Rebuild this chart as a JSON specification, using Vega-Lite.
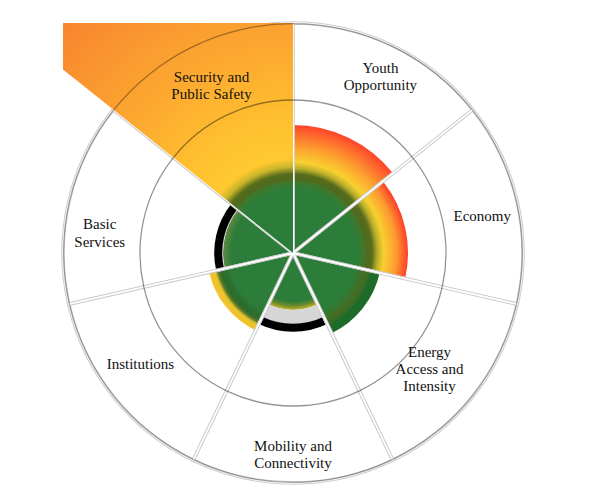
{
  "$schema": "https://vega.github.io/schema/vega-lite/v6.json",
  "width": 460,
  "height": 460,
  "autosize": {"type": "none"},
  "padding": {"left": 63, "top": 23, "right": 77, "bottom": 11},
  "background": "white",
  "config": {"view": {"stroke": null}},
  "data": {
    "values": [
      {"idx": 0, "sector": "Youth Opportunity", "label": "Youth\nOpportunity", "share": 1, "value": 1.6},
      {"idx": 1, "sector": "Economy", "label": "Economy", "share": 1, "value": 1.4375},
      {"idx": 2, "sector": "Energy Access and Intensity", "label": "Energy\nAccess and\nIntensity", "share": 1, "value": 1.1125},
      {"idx": 3, "sector": "Mobility and Connectivity", "label": "Mobility and\nConnectivity", "share": 1, "value": 0.7125},
      {"idx": 4, "sector": "Institutions", "label": "Institutions", "share": 1, "value": 1.075},
      {"idx": 5, "sector": "Basic Services", "label": "Basic\nServices", "share": 1, "value": 0.875},
      {"idx": 6, "sector": "Security and Public Safety", "label": "Security and\nPublic Safety", "share": 1, "value": 5.0}
    ]
  },
  "transform": [
    {"stack": "share", "groupby": [], "sort": [{"field": "idx", "order": "ascending"}], "as": ["t0", "t1"]}
  ],
  "layer": [
    {
      "transform": [{"filter": "datum.idx == 0"}],
      "mark": {"type": "arc", "fill": {"gradient": "radial", "x1": 0.1091, "y1": 1, "r1": 0, "x2": 0.1091, "y2": 1, "r2": 1,
        "stops": [
          {"offset": 0, "color": "#2d7d3a"}, {"offset": 0.5, "color": "#2d7d3a"}, {"offset": 0.547, "color": "#3c7a2e"},
          {"offset": 0.578, "color": "#52691d"}, {"offset": 0.617, "color": "#566c1c"}, {"offset": 0.66, "color": "#b9ae2a"},
          {"offset": 0.71, "color": "#f9d030"}, {"offset": 0.82, "color": "#fca12f"}, {"offset": 1, "color": "#ff452b"}]}},
      "encoding": {
        "theta": {"field": "t0", "type": "quantitative", "scale": {"domain": [0, 7], "range": [0, 6.283185307179586]}},
        "theta2": {"field": "t1"},
        "radius": {"field": "value", "type": "quantitative", "scale": {"type": "linear", "domain": [0, 2.875], "range": [0, 230], "zero": true, "nice": false}}
      }
    },
    {
      "transform": [{"filter": "datum.idx == 1"}],
      "mark": {"type": "arc", "fill": {"gradient": "radial", "x1": 0, "y1": 0.7005, "r1": 0, "x2": 0, "y2": 0.7005, "r2": 1,
        "stops": [
          {"offset": 0, "color": "#2d7d3a"}, {"offset": 0.557, "color": "#2d7d3a"}, {"offset": 0.609, "color": "#3c7a2e"},
          {"offset": 0.643, "color": "#52691d"}, {"offset": 0.687, "color": "#566c1c"}, {"offset": 0.735, "color": "#b9ae2a"},
          {"offset": 0.79, "color": "#f9d030"}, {"offset": 0.9, "color": "#fc9a2f"}, {"offset": 1, "color": "#ff3d2a"}]}},
      "encoding": {
        "theta": {"field": "t0", "type": "quantitative", "scale": {"domain": [0, 7], "range": [0, 6.283185307179586]}},
        "theta2": {"field": "t1"},
        "radius": {"field": "value", "type": "quantitative", "scale": {"type": "linear", "domain": [0, 2.875], "range": [0, 230], "zero": true, "nice": false}}
      }
    },
    {
      "transform": [{"filter": "datum.idx == 2"}],
      "mark": {"type": "arc", "fill": {"gradient": "radial", "x1": 0, "y1": 0.0379, "r1": 0, "x2": 0, "y2": 0.0379, "r2": 1.0257,
        "stops": [
          {"offset": 0, "color": "#2d7d3a"}, {"offset": 0.72, "color": "#2d7d3a"}, {"offset": 0.79, "color": "#3a742c"},
          {"offset": 0.83, "color": "#456d24"}, {"offset": 0.88, "color": "#3a6b25"}, {"offset": 0.91, "color": "#1d6b29"},
          {"offset": 1, "color": "#1d6b29"}]}},
      "encoding": {
        "theta": {"field": "t0", "type": "quantitative", "scale": {"domain": [0, 7], "range": [0, 6.283185307179586]}},
        "theta2": {"field": "t1"},
        "radius": {"field": "value", "type": "quantitative", "scale": {"type": "linear", "domain": [0, 2.875], "range": [0, 230], "zero": true, "nice": false}}
      }
    },
    {
      "transform": [{"filter": "datum.idx == 3"}],
      "mark": {"type": "arc", "fill": {"gradient": "radial", "x1": 0.5, "y1": 0, "r1": 0, "x2": 0.5, "y2": 0, "r2": 1,
        "stops": [
          {"offset": 0, "color": "#2d7d3a"}, {"offset": 0.85, "color": "#2d7d3a"}, {"offset": 0.93, "color": "#6f8b2d"},
          {"offset": 1, "color": "#c8b52c"}]}},
      "encoding": {
        "theta": {"field": "t0", "type": "quantitative", "scale": {"domain": [0, 7], "range": [0, 6.283185307179586]}},
        "theta2": {"field": "t1"},
        "radius": {"field": "value", "type": "quantitative", "scale": {"type": "linear", "domain": [0, 2.875], "range": [0, 230], "zero": true, "nice": false}}
      }
    },
    {
      "transform": [{"filter": "datum.idx == 4"}],
      "mark": {"type": "arc", "fill": {"gradient": "radial", "x1": 1, "y1": 0.0379, "r1": 0, "x2": 1, "y2": 0.0379, "r2": 1.0257,
        "stops": [
          {"offset": 0, "color": "#2d7d3a"}, {"offset": 0.744, "color": "#2d7d3a"}, {"offset": 0.814, "color": "#2a6f2f"},
          {"offset": 0.86, "color": "#2e6b2a"}, {"offset": 0.895, "color": "#55762a"}, {"offset": 0.93, "color": "#e8c52c"},
          {"offset": 1, "color": "#f6c12b"}]}},
      "encoding": {
        "theta": {"field": "t0", "type": "quantitative", "scale": {"domain": [0, 7], "range": [0, 6.283185307179586]}},
        "theta2": {"field": "t1"},
        "radius": {"field": "value", "type": "quantitative", "scale": {"type": "linear", "domain": [0, 2.875], "range": [0, 230], "zero": true, "nice": false}}
      }
    },
    {
      "transform": [{"filter": "datum.idx == 5"}],
      "mark": {"type": "arc", "fill": {"gradient": "radial", "x1": 1, "y1": 0.7005, "r1": 0, "x2": 1, "y2": 0.7005, "r2": 1,
        "stops": [
          {"offset": 0, "color": "#2d7d3a"}, {"offset": 0.88, "color": "#2d7d3a"}, {"offset": 1, "color": "#5f8a45"}]}},
      "encoding": {
        "theta": {"field": "t0", "type": "quantitative", "scale": {"domain": [0, 7], "range": [0, 6.283185307179586]}},
        "theta2": {"field": "t1"},
        "radius": {"field": "value", "type": "quantitative", "scale": {"type": "linear", "domain": [0, 2.875], "range": [0, 230], "zero": true, "nice": false}}
      }
    },
    {
      "transform": [{"filter": "datum.value < 1"}],
      "mark": {"type": "arc", "fill": "#d6d6d6"},
      "encoding": {
        "theta": {"field": "t0", "type": "quantitative", "scale": {"domain": [0, 7], "range": [0, 6.283185307179586]}},
        "theta2": {"field": "t1"},
        "radius": {"field": "value", "type": "quantitative", "scale": {"type": "linear", "domain": [0, 2.875], "range": [0, 230], "zero": true, "nice": false}},
        "radius2": {"datum": 0.89}
      }
    },
    {
      "transform": [{"filter": "datum.value < 1"}],
      "mark": {"type": "arc", "fill": "#000000"},
      "encoding": {
        "theta": {"field": "t0", "type": "quantitative", "scale": {"domain": [0, 7], "range": [0, 6.283185307179586]}},
        "theta2": {"field": "t1"},
        "radius": {"datum": 0.985, "type": "quantitative", "scale": {"type": "linear", "domain": [0, 2.875], "range": [0, 230], "zero": true, "nice": false}},
        "radius2": {"datum": 0.885}
      }
    },
    {
      "mark": {"type": "arc", "filled": false, "stroke": "#cfcfcf", "strokeWidth": 3.5},
      "encoding": {
        "theta": {"field": "t0", "type": "quantitative", "scale": {"domain": [0, 7], "range": [0, 6.283185307179586]}},
        "theta2": {"field": "t1"},
        "radius": {"datum": 2.875, "type": "quantitative", "scale": {"type": "linear", "domain": [0, 2.875], "range": [0, 230], "zero": true, "nice": false}}
      }
    },
    {
      "mark": {"type": "arc", "filled": false, "stroke": "#ffffff", "strokeWidth": 1.3},
      "encoding": {
        "theta": {"field": "t0", "type": "quantitative", "scale": {"domain": [0, 7], "range": [0, 6.283185307179586]}},
        "theta2": {"field": "t1"},
        "radius": {"datum": 2.875, "type": "quantitative", "scale": {"type": "linear", "domain": [0, 2.875], "range": [0, 230], "zero": true, "nice": false}}
      }
    },
    {
      "transform": [{"filter": "datum.idx == 6"}],
      "mark": {"type": "arc", "clip": true, "fill": {"gradient": "radial", "x1": 0.8909, "y1": 1, "r1": 0, "x2": 0.8909, "y2": 1, "r2": 1,
        "stops": [
          {"offset": 0, "color": "#2d7d3a"}, {"offset": 0.16, "color": "#2d7d3a"}, {"offset": 0.175, "color": "#3c7a2e"},
          {"offset": 0.185, "color": "#52691d"}, {"offset": 0.1975, "color": "#566c1c"}, {"offset": 0.215, "color": "#c9b52a"},
          {"offset": 0.235, "color": "#ffc930"}, {"offset": 0.33, "color": "#ffc02f"}, {"offset": 0.5, "color": "#fcaa30"},
          {"offset": 0.8, "color": "#f8862f"}, {"offset": 1, "color": "#f5762d"}]}},
      "encoding": {
        "theta": {"field": "t0", "type": "quantitative", "scale": {"domain": [0, 7], "range": [0, 6.283185307179586]}},
        "theta2": {"field": "t1"},
        "radius": {"field": "value", "type": "quantitative", "scale": {"type": "linear", "domain": [0, 2.875], "range": [0, 230], "zero": true, "nice": false}}
      }
    },
    {
      "mark": {"type": "arc", "fill": "#000000", "opacity": 0.42},
      "encoding": {
        "theta": {"field": "t0", "type": "quantitative", "scale": {"domain": [0, 7], "range": [0, 6.283185307179586]}},
        "theta2": {"field": "t1"},
        "radius": {"datum": 1.9205, "type": "quantitative", "scale": {"type": "linear", "domain": [0, 2.875], "range": [0, 230], "zero": true, "nice": false}},
        "radius2": {"datum": 1.9045}
      }
    },
    {
      "mark": {"type": "arc", "fill": "#000000", "opacity": 0.35},
      "encoding": {
        "theta": {"field": "t0", "type": "quantitative", "scale": {"domain": [0, 7], "range": [0, 6.283185307179586]}},
        "theta2": {"field": "t1"},
        "radius": {"datum": 2.8755, "type": "quantitative", "scale": {"type": "linear", "domain": [0, 2.875], "range": [0, 230], "zero": true, "nice": false}},
        "radius2": {"datum": 2.8595}
      }
    },
    {
      "mark": {"type": "text", "font": "Liberation Serif", "fontSize": 15, "color": "#111111", "align": "center", "baseline": "middle", "lineBreak": "\n", "lineHeight": 17.5, "dx": 5, "dy": -14},
      "encoding": {
        "theta": {"field": "share", "type": "quantitative", "stack": true, "scale": {"domain": [0, 7], "range": [0, 6.283185307179586]}},
        "order": {"field": "idx", "type": "quantitative", "sort": "ascending"},
        "radius": {"datum": 2.375, "type": "quantitative", "scale": {"type": "linear", "domain": [0, 2.875], "range": [0, 230], "zero": true, "nice": false}},
        "text": {"condition": {"test": "datum.idx == 0", "field": "label", "type": "nominal"}, "value": ""}
      }
    },
    {
      "mark": {"type": "text", "font": "Liberation Serif", "fontSize": 15, "color": "#111111", "align": "center", "baseline": "middle", "lineBreak": "\n", "lineHeight": 17.5, "dx": 4, "dy": 5},
      "encoding": {
        "theta": {"field": "share", "type": "quantitative", "stack": true, "scale": {"domain": [0, 7], "range": [0, 6.283185307179586]}},
        "order": {"field": "idx", "type": "quantitative", "sort": "ascending"},
        "radius": {"datum": 2.375, "type": "quantitative", "scale": {"type": "linear", "domain": [0, 2.875], "range": [0, 230], "zero": true, "nice": false}},
        "text": {"condition": {"test": "datum.idx == 1", "field": "label", "type": "nominal"}, "value": ""}
      }
    },
    {
      "mark": {"type": "text", "font": "Liberation Serif", "fontSize": 15, "color": "#111111", "align": "center", "baseline": "middle", "lineBreak": "\n", "lineHeight": 17, "dx": -12, "dy": -19},
      "encoding": {
        "theta": {"field": "share", "type": "quantitative", "stack": true, "scale": {"domain": [0, 7], "range": [0, 6.283185307179586]}},
        "order": {"field": "idx", "type": "quantitative", "sort": "ascending"},
        "radius": {"datum": 2.375, "type": "quantitative", "scale": {"type": "linear", "domain": [0, 2.875], "range": [0, 230], "zero": true, "nice": false}},
        "text": {"condition": {"test": "datum.idx == 2", "field": "label", "type": "nominal"}, "value": ""}
      }
    },
    {
      "mark": {"type": "text", "font": "Liberation Serif", "fontSize": 15, "color": "#111111", "align": "center", "baseline": "middle", "lineBreak": "\n", "lineHeight": 17, "dx": 0, "dy": 3},
      "encoding": {
        "theta": {"field": "share", "type": "quantitative", "stack": true, "scale": {"domain": [0, 7], "range": [0, 6.283185307179586]}},
        "order": {"field": "idx", "type": "quantitative", "sort": "ascending"},
        "radius": {"datum": 2.375, "type": "quantitative", "scale": {"type": "linear", "domain": [0, 2.875], "range": [0, 230], "zero": true, "nice": false}},
        "text": {"condition": {"test": "datum.idx == 3", "field": "label", "type": "nominal"}, "value": ""}
      }
    },
    {
      "mark": {"type": "text", "font": "Liberation Serif", "fontSize": 15, "color": "#111111", "align": "center", "baseline": "middle", "lineBreak": "\n", "lineHeight": 17.5, "dx": -4, "dy": -7},
      "encoding": {
        "theta": {"field": "share", "type": "quantitative", "stack": true, "scale": {"domain": [0, 7], "range": [0, 6.283185307179586]}},
        "order": {"field": "idx", "type": "quantitative", "sort": "ascending"},
        "radius": {"datum": 2.375, "type": "quantitative", "scale": {"type": "linear", "domain": [0, 2.875], "range": [0, 230], "zero": true, "nice": false}},
        "text": {"condition": {"test": "datum.idx == 4", "field": "label", "type": "nominal"}, "value": ""}
      }
    },
    {
      "mark": {"type": "text", "font": "Liberation Serif", "fontSize": 15, "color": "#111111", "align": "center", "baseline": "middle", "lineBreak": "\n", "lineHeight": 18, "dx": -8, "dy": 13},
      "encoding": {
        "theta": {"field": "share", "type": "quantitative", "stack": true, "scale": {"domain": [0, 7], "range": [0, 6.283185307179586]}},
        "order": {"field": "idx", "type": "quantitative", "sort": "ascending"},
        "radius": {"datum": 2.375, "type": "quantitative", "scale": {"type": "linear", "domain": [0, 2.875], "range": [0, 230], "zero": true, "nice": false}},
        "text": {"condition": {"test": "datum.idx == 5", "field": "label", "type": "nominal"}, "value": ""}
      }
    },
    {
      "mark": {"type": "text", "font": "Liberation Serif", "fontSize": 15, "color": "#111111", "align": "center", "baseline": "middle", "lineBreak": "\n", "lineHeight": 17.5, "dx": 1, "dy": -5},
      "encoding": {
        "theta": {"field": "share", "type": "quantitative", "stack": true, "scale": {"domain": [0, 7], "range": [0, 6.283185307179586]}},
        "order": {"field": "idx", "type": "quantitative", "sort": "ascending"},
        "radius": {"datum": 2.375, "type": "quantitative", "scale": {"type": "linear", "domain": [0, 2.875], "range": [0, 230], "zero": true, "nice": false}},
        "text": {"condition": {"test": "datum.idx == 6", "field": "label", "type": "nominal"}, "value": ""}
      }
    }
  ]
}
